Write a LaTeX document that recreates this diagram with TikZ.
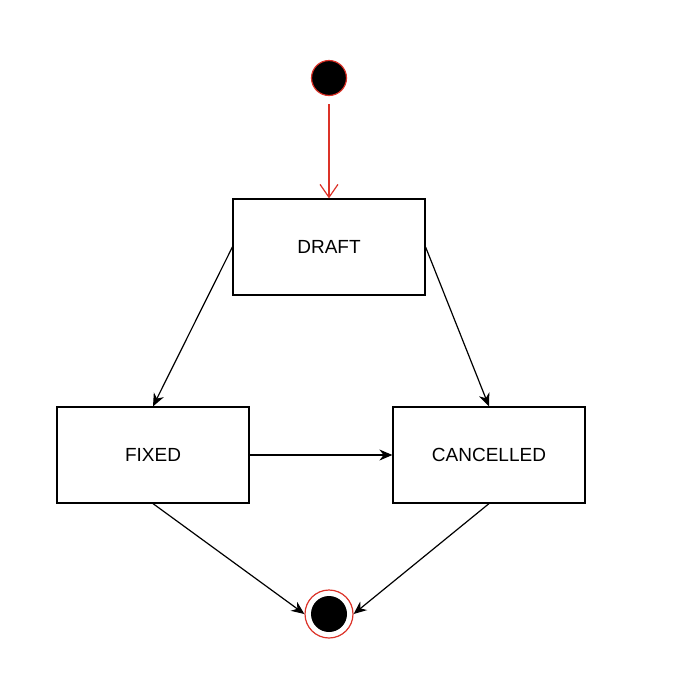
\documentclass[tikz,border=0pt]{standalone}
\usepackage{fontspec}
\setmainfont{Liberation Sans}
\usetikzlibrary{arrows.meta}
\begin{document}
\begin{tikzpicture}[x=1pt,y=-1pt,
  st/.style={draw,line width=1.2pt,minimum width=192pt,minimum height=96pt,inner sep=0pt,font=\fontsize{19}{22}\selectfont},
  ar/.style={draw,line width=1.2pt,-{Stealth[length=13pt,width=11pt]}}]
\useasboundingbox (0,0) rectangle (696,686);
\node[circle,fill=black,draw={rgb,255:red,220;green,50;blue,40},line width=1.2pt,minimum size=35pt,inner sep=0pt] (init) at (329,78) {};
\node[st] (draft) at (329,247) {DRAFT};
\node[st] (fixed) at (153,455) {FIXED};
\node[st] (canc) at (489,455) {CANCELLED};
\node[circle,draw={rgb,255:red,220;green,50;blue,40},line width=1.2pt,minimum size=48pt,inner sep=0pt] (fin) at (329,614) {};
\node[circle,fill=black,minimum size=36pt,inner sep=0pt] (finin) at (329,614) {};
\coordinate (istart) at (329,104);
\draw[line width=1.2pt,draw={rgb,255:red,220;green,50;blue,40},-{Straight Barb[length=13pt,width=18pt]}] (istart) -- (draft.north);
\draw[ar] (draft.west) -- (fixed.north);
\draw[ar] (draft.east) -- (canc.north);
\draw[ar] (fixed.east) -- (canc.west);
\draw[ar] (fixed.south) -- (fin.west);
\draw[ar] (canc.south) -- (fin.east);
\end{tikzpicture}
\end{document}
